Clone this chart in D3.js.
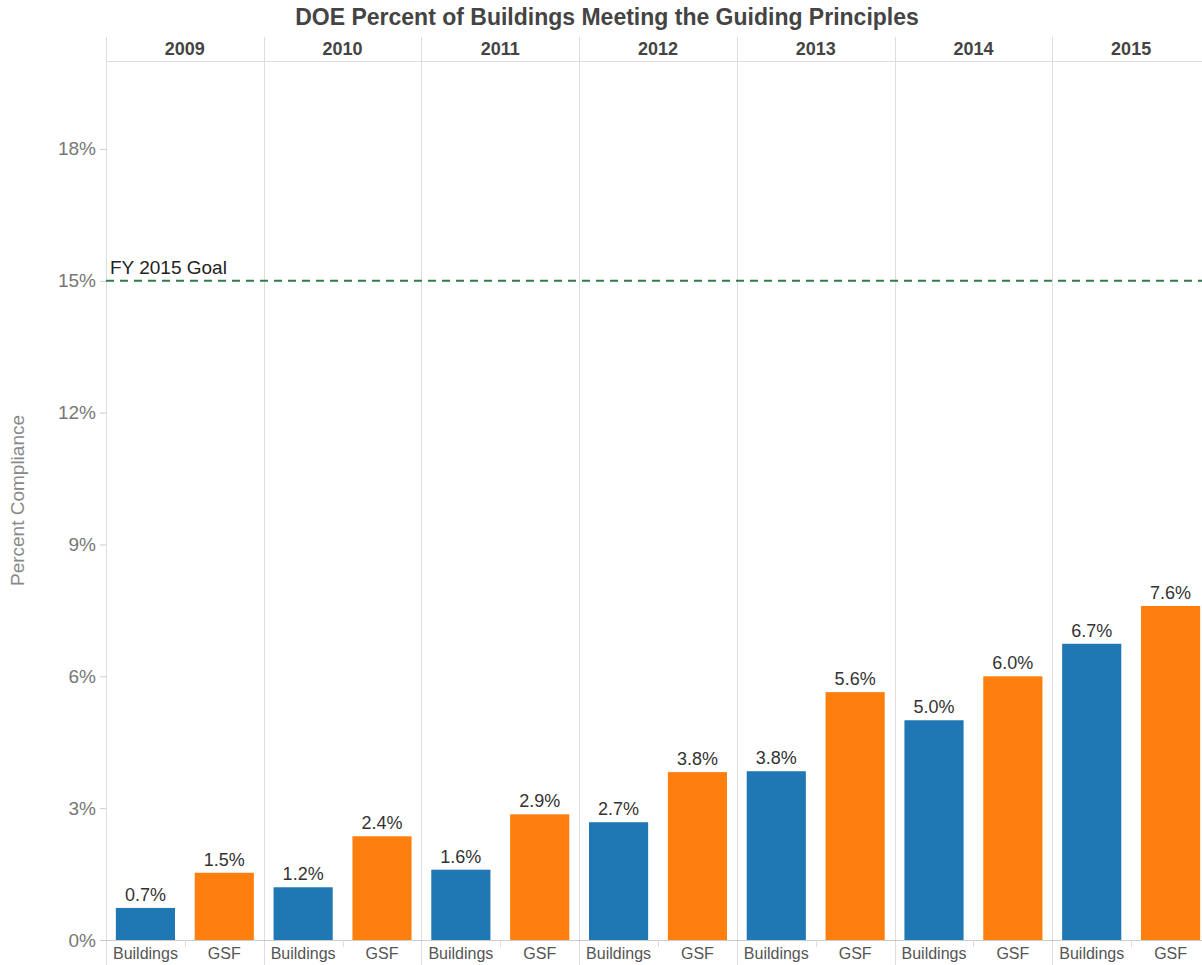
<!DOCTYPE html>
<html>
<head>
<meta charset="utf-8">
<script src="https://cdn.jsdelivr.net/npm/d3@7"></script>
<style>
  body { margin: 0; background: #fff; overflow: hidden; }
  svg { font-family: "Liberation Sans", Arial, sans-serif; }
</style>
</head>
<body>
<div id="chart"></div>
<script>
const YEARS = ['2009', '2010', '2011', '2012', '2013', '2014', '2015']
const MEASURES = ['Buildings', 'GSF']
const BUILDINGS = [0.73, 1.2, 1.6, 2.68, 3.84, 5.0, 6.74]
const GSF = [1.53, 2.36, 2.86, 3.82, 5.64, 6.0, 7.6]
const Y_TICKS = [0, 3, 6, 9, 12, 15, 18]
const GOAL = 15

const WIDTH = 1202, HEIGHT = 965
const M = { top: 61, bottom: 25, left: 106 }
const PLOT_RIGHT = 1210
const COLORS = { Buildings: '#1f77b4', GSF: '#ff7f0e' }

let svg = d3.select('#chart').append('svg')
  .attr('width', WIDTH)
  .attr('height', HEIGHT)

let x0 = d3.scaleBand()
  .domain(YEARS)
  .range([M.left, PLOT_RIGHT])

let x1 = d3.scaleBand()
  .domain(MEASURES)
  .range([0, x0.bandwidth()])
  .paddingInner(0.25)
  .paddingOuter(0.125)

let y = d3.scaleLinear()
  .domain([0, 20])
  .range([HEIGHT - M.bottom, M.top])

let rows = []
YEARS.forEach((yr, i) => {
  rows.push({ year: yr, m: 'Buildings', v: BUILDINGS[i] })
  rows.push({ year: yr, m: 'GSF', v: GSF[i] })
})

// title
svg.append('text')
  .attr('x', 607).attr('y', 25)
  .attr('text-anchor', 'middle')
  .attr('font-size', 23).attr('font-weight', 'bold')
  .attr('fill', '#444')
  .text('DOE Percent of Buildings Meeting the Guiding Principles')

// header row
svg.append('line')
  .attr('x1', M.left).attr('x2', WIDTH)
  .attr('y1', M.top + 0.5).attr('y2', M.top + 0.5)
  .attr('stroke', '#ddd').attr('stroke-width', 1)

svg.append('g').selectAll('text')
  .data(YEARS)
  .enter().append('text')
    .attr('x', d => x0(d) + x0.bandwidth() / 2)
    .attr('y', 55)
    .attr('text-anchor', 'middle')
    .attr('font-size', 18).attr('font-weight', 'bold')
    .attr('fill', '#444')
    .text(d => d)

// panel separators
svg.append('g').selectAll('line')
  .data(YEARS)
  .enter().append('line')
    .attr('x1', d => Math.round(x0(d)) + 0.5).attr('x2', d => Math.round(x0(d)) + 0.5)
    .attr('y1', 37).attr('y2', HEIGHT)
    .attr('stroke', '#ddd').attr('stroke-width', 1)

// y axis
let yAxis = svg.append('g')
  .attr('transform', 'translate(' + M.left + ',0)')
  .call(d3.axisLeft(y).tickValues(Y_TICKS).tickFormat(d => d + '%').tickSize(6).tickPadding(4))
yAxis.select('.domain').remove()
yAxis.selectAll('line').attr('stroke', '#ccc')
yAxis.selectAll('text')
  .attr('font-size', 19).attr('fill', '#777')
  .attr('font-family', '"Liberation Sans", Arial, sans-serif')

svg.append('text')
  .attr('transform', 'translate(24,' + ((M.top + HEIGHT - M.bottom) / 2) + ') rotate(-90)')
  .attr('text-anchor', 'middle')
  .attr('font-size', 19).attr('fill', '#888')
  .text('Percent Compliance')

// bottom axis line
svg.append('line')
  .attr('x1', M.left - 6).attr('x2', WIDTH)
  .attr('y1', y(0) + 0.5).attr('y2', y(0) + 0.5)
  .attr('stroke', '#ccc')

// bars
let g = svg.append('g')
let bar = g.selectAll('.bar')
  .data(rows)
  .enter().append('g')
    .attr('transform', d => 'translate(' + (x0(d.year) + x1(d.m)) + ',0)')

bar.append('rect')
  .attr('x', 0)
  .attr('y', d => y(d.v))
  .attr('width', x1.bandwidth())
  .attr('height', d => y(0) - y(d.v))
  .attr('fill', d => COLORS[d.m])

bar.append('text')
  .attr('x', x1.bandwidth() / 2)
  .attr('y', d => y(d.v) - 7)
  .attr('text-anchor', 'middle')
  .attr('font-size', 18).attr('fill', '#333')
  .text(d => d3.format('.1f')(d.v) + '%')

// category labels + separators
bar.append('text')
  .attr('x', x1.bandwidth() / 2)
  .attr('y', y(0) + 19)
  .attr('text-anchor', 'middle')
  .attr('font-size', 16).attr('fill', '#555')
  .text(d => d.m)

svg.append('g').selectAll('line')
  .data(YEARS)
  .enter().append('line')
    .attr('x1', d => Math.round(x0(d) + x0.bandwidth() / 2) + 0.5)
    .attr('x2', d => Math.round(x0(d) + x0.bandwidth() / 2) + 0.5)
    .attr('y1', y(0)).attr('y2', y(0) + 7)
    .attr('stroke', '#ddd')

// goal line
svg.append('line')
  .attr('x1', M.left).attr('x2', WIDTH)
  .attr('y1', y(GOAL)).attr('y2', y(GOAL))
  .attr('stroke', '#2e7d4f').attr('stroke-width', 2)
  .attr('stroke-dasharray', '8,6')

svg.append('text')
  .attr('x', M.left + 4).attr('y', y(GOAL) - 7)
  .attr('font-size', 19).attr('fill', '#222')
  .text('FY 2015 Goal')
</script>
</body>
</html>
